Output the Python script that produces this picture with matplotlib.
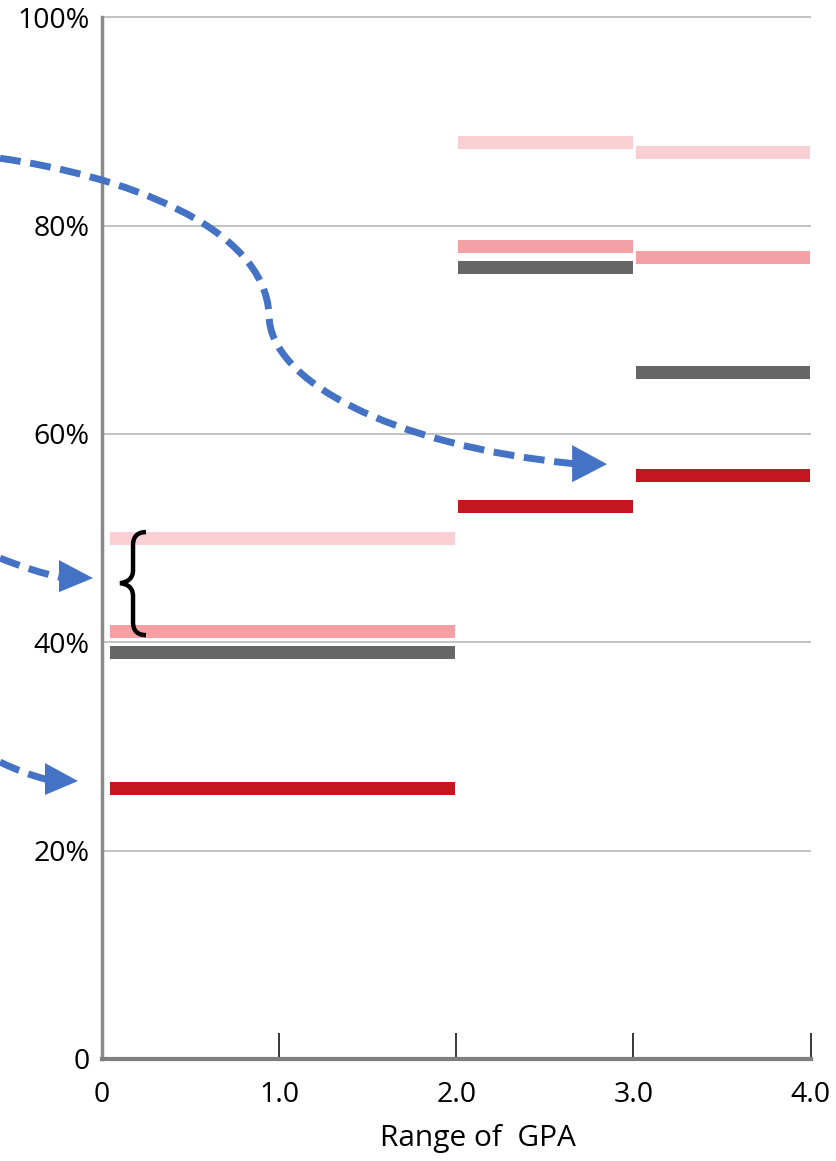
import matplotlib
matplotlib.use("Agg")
import matplotlib.pyplot as plt
from matplotlib.path import Path
from matplotlib.patches import PathPatch, Polygon

plt.rcParams['font.family'] = ['Open Sans', 'DejaVu Sans']

# GPA ranges (x) and the four series (% values)
gpa_lo = [0, 2, 3]
gpa_hi = [2, 3, 4]
light_pink = [50, 88, 87]
mid_pink = [41, 78, 76.9]
dark_gray = [39, 76, 65.9]
dark_red = [26, 53, 56]

series = [light_pink, mid_pink, dark_gray, dark_red]
colors = ['#f9cfd3', '#f4a0a4', '#666666', '#c4161e']

y_ticks = [0, 20, 40, 60, 80, 100]
y_labels = ['0', '20%', '40%', '60%', '80%', '100%']
x_ticks = [0, 1, 2, 3, 4]
x_labels = ['0', '1.0', '2.0', '3.0', '4.0']

fig = plt.figure(figsize=(8.37, 11.61), dpi=100)
ax = fig.add_axes([0.1219, 0.0879, 0.8465, 0.8972])
ax.set_xlim(0, 4)
ax.set_ylim(0, 100)

# grid
ax.hlines(y_ticks[1:], 0, 4, colors='#bdbdbd', linewidth=1.3, zorder=0, clip_on=False)

# bars (small white gap at the start of each range)
gaps = [0.045, 0.01, 0.015]
for vals, c in zip(series, colors):
    lefts = [lo + g for lo, g in zip(gpa_lo, gaps)]
    widths = [hi - l - 0.005 for l, hi in zip(lefts, gpa_hi)]
    ax.barh(vals, widths, left=lefts, height=1.25, color=c, zorder=2)

for s in ['top', 'right']:
    ax.spines[s].set_visible(False)
ax.spines['left'].set_color('#8a8a8a')
ax.spines['left'].set_linewidth(2.5)
ax.spines['bottom'].set_color('#7f7f7f')
ax.spines['bottom'].set_linewidth(3)

ax.set_yticks(y_ticks)
ax.set_yticklabels(y_labels, fontsize=20.5)
ax.tick_params(axis='y', length=0, pad=9)
ax.set_xticks(x_ticks)
ax.set_xticklabels(x_labels, fontsize=20.5)
ax.tick_params(axis='x', direction='in', length=19, width=1.1, color='black', pad=16)
ax.xaxis.get_major_ticks()[0].tick1line.set_visible(False)

ax.set_xlabel('Range of  GPA', fontsize=21.5)
ax.xaxis.set_label_coords(0.53, -0.062)

# dashed arrows (annotations)
blue = '#4472c4'
dash = (0, (3, 1.4))

def dashed_arrow(verts, codes, head):
    p = PathPatch(Path(verts, codes), facecolor='none', edgecolor=blue, lw=5,
                  linestyle=dash, capstyle='butt', clip_on=False, zorder=3)
    ax.add_patch(p)
    ax.add_patch(Polygon(head, closed=True, facecolor=blue, edgecolor='none',
                         clip_on=False, zorder=3))

C4 = Path.CURVE4
C3 = Path.CURVE3
dashed_arrow([(-0.576, 86.47), (0.102, 84.84), (0.920, 80.04), (0.943, 71.40),
              (0.943, 65.16), (1.626, 58.93), (2.660, 57.15)],
             [Path.MOVETO, C4, C4, C4, C4, C4, C4],
             [(2.851, 57.10), (2.654, 58.93), (2.654, 55.37)])
dashed_arrow([(-0.576, 48.08), (-0.379, 46.74), (-0.230, 46.22)],
             [Path.MOVETO, C3, C3],
             [(-0.051, 46.16), (-0.243, 47.89), (-0.243, 44.82)])
dashed_arrow([(-0.576, 28.50), (-0.435, 27.35), (-0.315, 26.85)],
             [Path.MOVETO, C3, C3],
             [(-0.136, 26.68), (-0.322, 28.41), (-0.322, 25.34)])

# curly brace
brace = [(0.248, 50.58), (0.203, 50.58), (0.175, 50.19), (0.175, 49.33),
         (0.175, 46.93),
         (0.175, 46.16), (0.147, 45.78), (0.102, 45.68),
         (0.147, 45.59), (0.175, 45.20), (0.175, 44.43),
         (0.175, 41.94),
         (0.175, 41.07), (0.203, 40.69), (0.248, 40.69)]
bcodes = [Path.MOVETO, C4, C4, C4, Path.LINETO, C4, C4, C4, C4, C4, C4,
          Path.LINETO, C4, C4, C4]
ax.add_patch(PathPatch(Path(brace, bcodes), facecolor='none', edgecolor='black',
                       lw=3.2, zorder=4, clip_on=False))

fig.savefig('out.png', dpi=100)
